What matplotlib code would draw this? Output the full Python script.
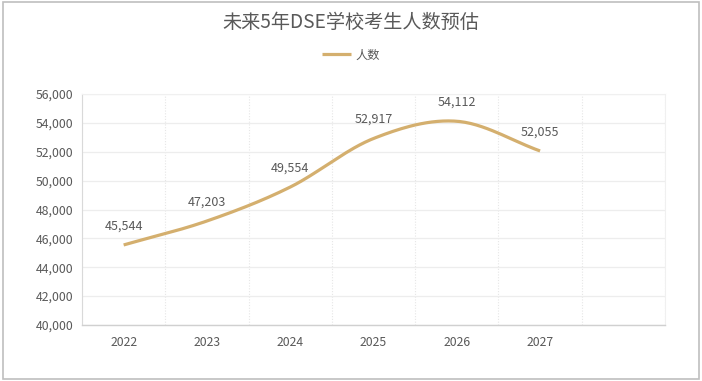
import numpy as np
import matplotlib.pyplot as plt
from matplotlib.patches import Rectangle
from matplotlib.ticker import FuncFormatter

plt.rcParams['font.family'] = ['Noto Sans CJK SC', 'DejaVu Sans']

# data
years = ['2022', '2023', '2024', '2025', '2026', '2027']
students = [45544, 47203, 49554, 52917, 54112, 52055]
title = '未来5年DSE学校考生人数预估'
series_name = '人数'

line_color = '#D4AF6E'
text_color = '#595959'


def smooth(xs, ys, n=30):
    # catmull-rom style smoothing, like Excel's "smoothed line"
    xs = np.asarray(xs, float)
    ys = np.asarray(ys, float)
    px = np.concatenate([[2 * xs[0] - xs[1]], xs, [2 * xs[-1] - xs[-2]]])
    py = np.concatenate([[2 * ys[0] - ys[1]], ys, [2 * ys[-1] - ys[-2]]])
    ox, oy = [], []
    for i in range(1, len(px) - 2):
        t = np.linspace(0, 1, n, endpoint=False)
        for p, out in ((px, ox), (py, oy)):
            p0, p1, p2, p3 = p[i - 1], p[i], p[i + 1], p[i + 2]
            out.extend(0.5 * (2 * p1 + (-p0 + p2) * t
                              + (2 * p0 - 5 * p1 + 4 * p2 - p3) * t ** 2
                              + (-p0 + 3 * p1 - 3 * p2 + p3) * t ** 3))
    ox.append(xs[-1])
    oy.append(ys[-1])
    return np.array(ox), np.array(oy)


fig = plt.figure(figsize=(7.02, 3.81), dpi=100)
fig.patches.append(Rectangle((0.004, 0.005), 0.992, 0.99, transform=fig.transFigure,
                             fill=False, edgecolor='#BFBFBF', lw=1.2))

ax = fig.add_axes([82 / 702, 1 - 325 / 381, (665 - 82) / 702, (325 - 94) / 381])

x = np.arange(len(years))
sx, sy = smooth(x, students)
ax.plot(sx, sy, color=line_color, lw=2.3, solid_capstyle='butt', label=series_name)

for xi, v in zip(x, students):
    ax.annotate(f'{v:,}', (xi, v), xytext=(0, 9), textcoords='offset points',
                ha='center', va='bottom', fontsize=9, color=text_color)

ax.set_xlim(-0.5, 6.5)
ax.set_ylim(40000, 56000)
ax.set_yticks(np.arange(40000, 56001, 2000))
ax.yaxis.set_major_formatter(FuncFormatter(lambda v, p: f'{int(v):,}'))
ax.set_xticks(x)
ax.set_xticklabels(years)
ax.set_xticks(np.arange(-0.5, 7, 1), minor=True)

ax.grid(axis='y', which='major', color='#EDEDED', lw=0.9)
ax.grid(axis='x', which='minor', color='#E6E6E6', lw=0.8, ls=(0, (1, 1.5)))
ax.tick_params(axis='both', which='both', length=0, colors=text_color, labelsize=8.8)
ax.tick_params(axis='x', pad=8)
ax.tick_params(axis='y', pad=6)

for s in ['top', 'right']:
    ax.spines[s].set_color('#F0F0F0')
    ax.spines[s].set_linewidth(0.8)
ax.spines['left'].set_color('#D9D9D9')
ax.spines['bottom'].set_color('#D0D0D0')
ax.spines['left'].set_linewidth(0.8)
ax.spines['bottom'].set_linewidth(1.0)

fig.text(0.5, 1 - 22 / 381, title, ha='center', va='center', fontsize=13.8, color=text_color)
fig.legend(loc='center', bbox_to_anchor=(0.5, 1 - 55 / 381), frameon=False,
           fontsize=8.8, labelcolor=text_color, handlelength=2.4, handletextpad=0.4)

fig.savefig('out.png', dpi=100)
